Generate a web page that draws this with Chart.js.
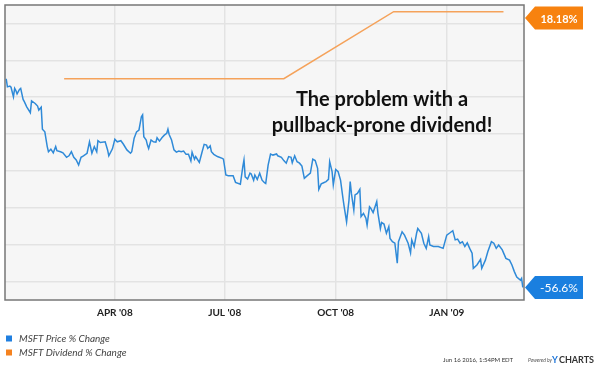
<!DOCTYPE html>
<html>
<head>
<meta charset="utf-8">
<script src="https://cdn.jsdelivr.net/npm/chart.js@4/dist/chart.umd.min.js"></script>
<style>
  html, body { margin: 0; padding: 0; background: #fff; }
  #wrap { width: 600px; height: 372px; }
</style>
</head>
<body>
<div id="wrap"><canvas id="divChart" width="600" height="372"></canvas></div>
<script>
// days counted from 1 Jan 2008
const priceDays = [1,2,4,5,7,8,9,10,12,13,15,16,18,21,22,25,27,28,30,31,33,35,36,38,40,42,43,46,48,51,53,55,57,59,61,63,65,68,70,72,74,76,77,79,83,85,86,89,91,93,96,98,101,104,105,107,109,111,113,114,115,117,118,119,121,123,125,126,128,130,132,134,135,136,138,140,142,144,146,148,150,152,154,155,157,158,161,163,165,167,168,170,171,173,176,180,181,183,185,189,191,195,197,198,199,201,203,204,206,207,209,211,213,215,216,218,220,222,225,226,229,231,233,235,237,238,240,242,244,246,248,250,253,255,257,259,260,262,264,266,268,269,271,272,274,276,278,280,281,283,285,286,287,289,290,292,294,295,297,299,300,302,303,305,308,309,311,312,314,316,318,319,321,323,325,326,329,331,334,336,337,339,341,342,345,347,349,351,352,355,359,363,366,369,371,373,375,377,379,381,383,385,387,388,391,394,395,398,400,403,405,407,409,412,415,418,420,422,424,427,428,429];
const priceChange = [0,-2.2,-2.0,-2.3,-4.9,-2.6,-3.2,-4.1,-2.9,-2.6,-5.6,-6.2,-7.6,-9.2,-6.0,-6.7,-7.4,-8.5,-7.7,-13.7,-14.4,-18.4,-19.8,-19.1,-20.1,-18.4,-19.5,-19.8,-20.1,-21.3,-20.9,-19.8,-21.3,-22.0,-23.4,-21.3,-20.9,-20.2,-17.1,-20.2,-18.4,-19.8,-16.8,-17.3,-17.1,-19.3,-20.9,-19.0,-16.4,-17.1,-16.8,-17.7,-19.3,-20.2,-19.8,-16.1,-14.4,-13.9,-10.3,-9.8,-15.7,-16.6,-18.0,-18.9,-16.6,-17.1,-17.2,-16.0,-16.9,-16.0,-15.3,-14.8,-13.7,-15.1,-16.6,-19.3,-19.9,-19.6,-19.8,-19.6,-20.5,-20.5,-22.3,-19.9,-21.8,-21.1,-22.7,-20.2,-17.8,-18.0,-18.9,-18.2,-19.8,-20.5,-21.1,-21.6,-21.8,-26.1,-26.3,-26.3,-28.1,-28.6,-23.9,-22.0,-26.6,-27.2,-25.6,-25.8,-27.5,-26.1,-27.3,-25.6,-27.5,-28.2,-28.4,-23.4,-20.4,-20.7,-20.4,-20.9,-21.3,-22.2,-22.9,-21.1,-21.3,-22.8,-20.9,-22.5,-22.9,-23.7,-27.0,-26.4,-25.6,-21.8,-22.2,-24.3,-30.0,-28.5,-28.2,-27.9,-27.3,-22.5,-25.2,-28.8,-24.6,-25.2,-27.5,-32.4,-34.7,-38.8,-32.9,-27.9,-31.1,-35.6,-31.5,-31.1,-30.0,-37.4,-36.5,-37.8,-39.7,-34.7,-35.1,-36.3,-33.3,-36.5,-40.6,-39.0,-39.4,-41.9,-40.1,-43.3,-44.2,-44.6,-50.0,-44.2,-41.5,-42.4,-44.6,-47.2,-43.7,-45.5,-41.9,-40.6,-41.9,-44.6,-46.0,-42.8,-45.1,-45.5,-45.5,-46.0,-42.4,-41.7,-41.2,-43.7,-43.5,-44.6,-44.2,-45.5,-44.5,-46.0,-47.3,-51.4,-50.5,-49.0,-51.4,-49.2,-46.9,-44.2,-44.6,-46.0,-45.1,-46.4,-48.7,-49.2,-50.5,-52.3,-53.8,-54.6,-54.1,-56.6];

const dividendDays = [49, 133, 231, 322, 413];
const dividendChange = [0, 0, 0, 18.18, 18.18];

const tickDays = [91, 182, 274, 366];
const tickLabels = ["APR '08", "JUL '08", "OCT '08", "JAN '09"];
const gridValues = [-55, -45, -35, -25, -15, -5, 5, 15];

const seriesNames = ["MSFT Price % Change", "MSFT Dividend % Change"];
const lastLabels = ["-56.6%", "18.18%"];

const lineColors = ["#2f8ad8", "#f5a25a"];
const keyColors = ["#1f7fe0", "#f5821f"];
const tagColors = ["#1a7fdf", "#f7820f"];

const toPoints = (xs, ys) => xs.map((x, i) => ({ x: x, y: ys[i] }));

const narrow = "'Liberation Sans Narrow', 'Lato', sans-serif";

// plot frame, big caption, end tags, legend and footer
const decorations = {
  id: "decorations",
  beforeDraw(chart) {
    const { ctx, chartArea: a } = chart;
    ctx.save();
    ctx.fillStyle = "#f6f6f6";
    ctx.fillRect(a.left, a.top, a.right - a.left, a.bottom - a.top);
    ctx.restore();
  },
  afterDraw(chart) {
    const { ctx, chartArea: a } = chart;
    const yScale = chart.scales.y;
    ctx.save();

    ctx.strokeStyle = "#777";
    ctx.lineWidth = 1.5;
    ctx.strokeRect(a.left, a.top, a.right - a.left, a.bottom - a.top);

    // caption
    ctx.fillStyle = "#111";
    ctx.font = "bold 20px Lato, sans-serif";
    ctx.textAlign = "center";
    ctx.textBaseline = "alphabetic";
    ctx.fillText("The problem with a", 382, 106);
    ctx.fillText("pullback-prone dividend!", 382, 132);

    // end-value tags
    chart.data.datasets.forEach((ds, i) => {
      const last = ds.data[ds.data.length - 1];
      let cy = yScale.getPixelForValue(last.y);
      cy = Math.max(a.top + 13, Math.min(a.bottom - 12, cy));
      const x0 = a.right + 1, bx = a.right + 11, bw = 48, h = 23;
      ctx.fillStyle = tagColors[i];
      ctx.beginPath();
      ctx.moveTo(x0, cy);
      ctx.lineTo(bx, cy - h / 2);
      ctx.lineTo(bx + bw, cy - h / 2);
      ctx.lineTo(bx + bw, cy + h / 2);
      ctx.lineTo(bx, cy + h / 2);
      ctx.closePath();
      ctx.fill();
      ctx.fillStyle = "#fff";
      ctx.font = (i === 0 ? "12px " : "bold 11px ") + "Lato, sans-serif";
      ctx.textAlign = "center";
      ctx.textBaseline = "middle";
      ctx.fillText(lastLabels[i], bx + bw / 2, cy + 1);
    });

    // legend
    chart.data.datasets.forEach((ds, i) => {
      const y = 338.5 + i * 14;
      ctx.fillStyle = keyColors[i];
      ctx.fillRect(6, y - 3, 6, 6);
      ctx.fillStyle = "#444";
      ctx.font = "italic 10px " + narrow;
      ctx.textAlign = "left";
      ctx.textBaseline = "middle";
      ctx.fillText(ds.label, 19, y);
    });

    // footer, laid out from the right edge
    ctx.textBaseline = "middle";
    ctx.textAlign = "right";
    ctx.font = "bold 9px Lato, sans-serif";
    ctx.fillStyle = "#333";
    ctx.fillText("CHARTS", 594, 360);
    const cw = ctx.measureText("CHARTS").width;
    ctx.fillStyle = "#1a73d9";
    ctx.fillText("Y", 593 - cw, 360);
    ctx.font = "italic 5px " + narrow;
    ctx.fillStyle = "#555";
    ctx.fillText("Powered by", 552, 360);
    ctx.font = "6px " + narrow;
    ctx.fillStyle = "#333";
    ctx.fillText("Jun 16 2016, 1:54PM EDT", 513, 360);

    ctx.restore();
  }
};

new Chart(document.getElementById("divChart").getContext("2d"), {
  type: "line",
  data: {
    datasets: [
      {
        label: seriesNames[0],
        data: toPoints(priceDays, priceChange),
        borderColor: lineColors[0],
        borderWidth: 1.5,
        pointRadius: 0,
        tension: 0
      },
      {
        label: seriesNames[1],
        data: toPoints(dividendDays, dividendChange),
        borderColor: lineColors[1],
        borderWidth: 1.5,
        pointRadius: 0,
        tension: 0
      }
    ]
  },
  options: {
    responsive: false,
    animation: false,
    devicePixelRatio: 1,
    layout: { padding: { left: 5, top: 5, right: 76, bottom: 0 } },
    plugins: {
      legend: { display: false },
      tooltip: { enabled: false }
    },
    scales: {
      x: {
        type: "linear",
        min: 0,
        max: 430,
        afterBuildTicks: (scale) => { scale.ticks = tickDays.map((v) => ({ value: v })); },
        afterFit: (scale) => { scale.height = 72; },
        grid: { color: "#e3e3e3", lineWidth: 1.5, drawTicks: false },
        border: { display: false },
        ticks: {
          autoSkip: false,
          maxRotation: 0,
          padding: 7,
          color: "#222",
          font: { family: narrow, size: 10, weight: "bold" },
          callback: (value) => tickLabels[tickDays.indexOf(value)]
        }
      },
      y: {
        min: -60,
        max: 20,
        afterBuildTicks: (scale) => { scale.ticks = gridValues.map((v) => ({ value: v })); },
        afterFit: (scale) => { scale.width = 0; },
        grid: { color: "#e3e3e3", lineWidth: 1.5, drawTicks: false },
        border: { display: false },
        ticks: { display: false }
      }
    }
  },
  plugins: [decorations]
});
</script>
</body>
</html>
